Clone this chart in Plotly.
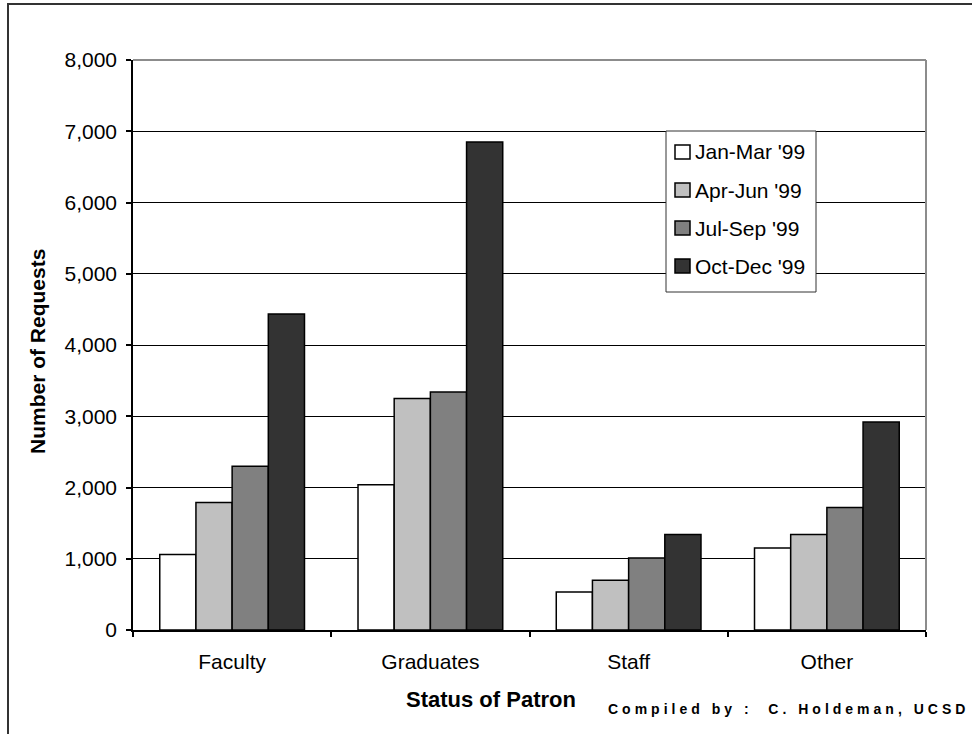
import plotly.graph_objects as go

# Interlibrary loan requests by patron status, per quarter of 1999
categories = ["Faculty", "Graduates", "Staff", "Other"]
quarters = ["Jan-Mar '99", "Apr-Jun '99", "Jul-Sep '99", "Oct-Dec '99"]
jan_mar = [1060, 2040, 535, 1150]
apr_jun = [1790, 3250, 700, 1340]
jul_sep = [2300, 3340, 1010, 1720]
oct_dec = [4435, 6850, 1340, 2920]
series = [jan_mar, apr_jun, jul_sep, oct_dec]
fills = ["#FFFFFF", "#C0C0C0", "#808080", "#333333"]

W, H = 972, 734
L, R, T, B = 133, 46, 60, 104
PW, PH = W - L - R, H - T - B


def px(x):
    return (x - L) / PW


def py(y):
    return (H - B - y) / PH


FONT = "Liberation Sans, Arial, sans-serif"
FS = 21

fig = go.Figure()
for name, vals, col in zip(quarters, series, fills):
    fig.add_trace(go.Bar(
        x=categories, y=vals, name=name,
        marker=dict(color=col, line=dict(color="#000000", width=1.5)),
        showlegend=False,
    ))

shapes = []
annotations = []

# outer chart frame (runs off the right and bottom edges)
shapes.append(dict(type="rect", xref="paper", yref="paper",
                   x0=px(8), x1=px(W + 10), y0=py(4), y1=py(H + 10),
                   line=dict(color="#333333", width=2), fillcolor="rgba(0,0,0,0)",
                   layer="below"))
# grey top and right edges of the plot area
shapes.append(dict(type="line", xref="paper", yref="paper", x0=0, x1=1, y0=1, y1=1,
                   line=dict(color="#8C8C8C", width=2), layer="above"))
shapes.append(dict(type="line", xref="paper", yref="paper", x0=1, x1=1, y0=0, y1=1,
                   line=dict(color="#8C8C8C", width=2), layer="above"))

# legend box
lx0, lx1, ly0, ly1 = 666, 816, 131, 292
shapes.append(dict(type="rect", xref="paper", yref="paper",
                   x0=px(lx0), x1=px(lx1), y0=py(ly0), y1=py(ly1),
                   line=dict(color="#333333", width=1), fillcolor="#FFFFFF",
                   layer="above"))
item_y = [152, 190, 228, 266]
for name, col, cy in zip(quarters, fills, item_y):
    shapes.append(dict(type="rect", xref="paper", yref="paper",
                       x0=px(675), x1=px(690), y0=py(cy - 7), y1=py(cy + 7),
                       line=dict(color="#000000", width=1.5), fillcolor=col,
                       layer="above"))
    annotations.append(dict(xref="paper", yref="paper", x=px(693), y=py(cy),
                            xanchor="left", yanchor="middle", showarrow=False,
                            text=name, font=dict(family=FONT, size=FS, color="#000000")))

# axis titles and credit line
annotations.append(dict(xref="paper", yref="paper", x=px(37), y=py(352),
                        textangle=-90, showarrow=False, xanchor="center", yanchor="middle",
                        text="<b>Number of Requests</b>",
                        font=dict(family=FONT, size=FS, color="#000000")))
annotations.append(dict(xref="paper", yref="paper", x=px(491), y=py(699),
                        showarrow=False, xanchor="center", yanchor="middle",
                        text="<b>Status of Patron</b>",
                        font=dict(family=FONT, size=22, color="#000000")))
annotations.append(dict(xref="paper", yref="paper", x=px(971), y=py(709),
                        showarrow=False, xanchor="right", yanchor="middle",
                        text='<b><span style="letter-spacing:4px">Compiled by :  C. Holdeman, UCSD</span></b>',
                        font=dict(family=FONT, size=14, color="#000000")))

fig.update_layout(
    width=W, height=H,
    margin=dict(l=L, r=R, t=T, b=B),
    paper_bgcolor="#FFFFFF", plot_bgcolor="#FFFFFF",
    barmode="group", bargap=0.27, bargroupgap=0,
    font=dict(family=FONT, size=FS, color="#000000"),
    shapes=shapes, annotations=annotations,
    xaxis=dict(type="category", tickson="boundaries", ticks="outside", ticklen=5,
               tickcolor="#000000", tickwidth=1.5, showline=True, linecolor="#000000",
               linewidth=1.5, showgrid=False, zeroline=False, ticklabelstandoff=12,
               tickfont=dict(family=FONT, size=FS, color="#000000")),
    yaxis=dict(range=[0, 8000], dtick=1000, tickformat=",", ticks="outside", ticklen=5,
               tickcolor="#000000", tickwidth=1.5, showline=True, linecolor="#000000",
               linewidth=1.5, showgrid=True, gridcolor="#000000", gridwidth=1,
               zeroline=False, ticklabelstandoff=5,
               tickfont=dict(family=FONT, size=FS, color="#000000")),
)

fig.write_html("out.html")
